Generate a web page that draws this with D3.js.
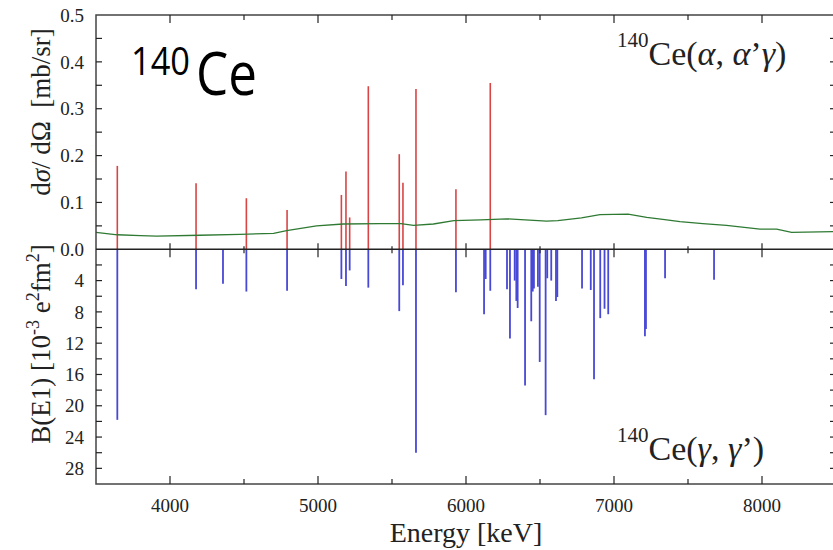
<!DOCTYPE html>
<html>
<head>
<meta charset="utf-8">
<script src="https://cdn.jsdelivr.net/npm/d3@7"></script>
<style>
  body { margin: 0; background: #fff; }
  svg { display: block; }
  .serif { font-family: "Liberation Serif", "DejaVu Serif", serif; fill: #222; }
</style>
</head>
<body>
<svg id="chart" width="833" height="550"></svg>
<script>
"use strict";

// (alpha, alpha' gamma) cross sections, red sticks
var alphaEnergy = [3644, 4176, 4516, 4791, 5158, 5189, 5214, 5340, 5549, 5574, 5662, 5932, 6164],
    alphaSigma = [0.178, 0.141, 0.109, 0.084, 0.116, 0.166, 0.068, 0.348, 0.203, 0.142, 0.342, 0.128, 0.355];

// (gamma, gamma') B(E1) strengths, blue sticks (10^-3 e^2 fm^2)
var gammaEnergy = [3644, 4176, 4358, 4516, 4791, 5158, 5189, 5214, 5340, 5549, 5574, 5662,
                   5932, 6122, 6133, 6164, 6277, 6297, 6329, 6340, 6349, 6399, 6441, 6451,
                   6459, 6486, 6498, 6538, 6549, 6576, 6608, 6617, 6784, 6843, 6865, 6907,
                   6936, 6961, 7209, 7216, 7345, 7676],
    gammaBE1 = [21.8, 5.1, 4.4, 5.4, 5.3, 3.8, 4.7, 2.7, 4.9, 7.9, 4.6, 26.0,
                5.5, 8.3, 3.8, 5.3, 5.1, 11.4, 4.0, 6.6, 7.5, 17.4, 9.2, 5.4,
                5.0, 4.8, 14.4, 21.2, 3.7, 4.0, 6.6, 6.1, 5.0, 5.2, 16.6, 8.8,
                7.6, 8.3, 11.1, 10.2, 3.7, 3.9];

// sensitivity limit curve (green)
var limitEnergy = [3500, 3644, 3800, 3910, 4200, 4473, 4700, 4788, 4990, 5169, 5419, 5560,
                   5645, 5780, 5918, 6100, 6275, 6400, 6545, 6620, 6780, 6905, 7095, 7221,
                   7330, 7446, 7600, 7760, 7986, 8099, 8200, 8500],
    limitSigma = [0.036, 0.031, 0.029, 0.028, 0.030, 0.032, 0.034, 0.040, 0.050, 0.054, 0.055, 0.055,
                  0.051, 0.054, 0.061, 0.063, 0.065, 0.063, 0.060, 0.061, 0.067, 0.074, 0.075, 0.068,
                  0.064, 0.059, 0.055, 0.051, 0.043, 0.043, 0.036, 0.038];

var xTicks = [4000, 5000, 6000, 7000, 8000],
    topTicks = [0.0, 0.1, 0.2, 0.3, 0.4, 0.5],
    botTicks = [4, 8, 12, 16, 20, 24, 28];

var plotLeft = 96, plotRight = 836, plotTop = 15, zeroY = 249.3, plotBottom = 484,
    frameColour = "#444",
    red = "#d94545",
    blue = "#4848d6",
    green = "#2f7a33";

var svg = d3.select("#chart");

var x = d3.scaleLinear().domain([3500, 8500]).range([plotLeft, plotRight]),
    yTop = d3.scaleLinear().domain([0, 0.5]).range([zeroY, plotTop]),
    yBot = d3.scaleLinear().domain([0, 30]).range([zeroY, plotBottom]);

// sticks
svg.append("g")
    .selectAll("line")
    .data(d3.zip(alphaEnergy, alphaSigma))
    .enter().append("line")
    .attr("x1", function(d) { return x(d[0]); })
    .attr("x2", function(d) { return x(d[0]); })
    .attr("y1", yTop(0))
    .attr("y2", function(d) { return yTop(d[1]); })
    .attr("stroke", red)
    .attr("stroke-width", 1.6);

svg.append("g")
    .selectAll("line")
    .data(d3.zip(gammaEnergy, gammaBE1))
    .enter().append("line")
    .attr("x1", function(d) { return x(d[0]); })
    .attr("x2", function(d) { return x(d[0]); })
    .attr("y1", yBot(0))
    .attr("y2", function(d) { return yBot(d[1]); })
    .attr("stroke", blue)
    .attr("stroke-width", 1.8);

var line = d3.line()
    .x(function(d) { return x(d[0]); })
    .y(function(d) { return yTop(d[1]); });

svg.append("path")
    .datum(d3.zip(limitEnergy, limitSigma))
    .attr("d", line)
    .attr("fill", "none")
    .attr("stroke", green)
    .attr("stroke-width", 1.3);

// frame and zero line
svg.append("rect")
    .attr("x", plotLeft).attr("y", plotTop)
    .attr("width", plotRight - plotLeft).attr("height", plotBottom - plotTop)
    .attr("fill", "none")
    .attr("stroke", frameColour)
    .attr("stroke-width", 1.5);

svg.append("line")
    .attr("x1", plotLeft).attr("x2", plotRight)
    .attr("y1", zeroY).attr("y2", zeroY)
    .attr("stroke", "#222")
    .attr("stroke-width", 1.5);

// x ticks: majors every 1000, minors every 500
var xTickVals = d3.range(4000, 8500, 500),
    ticks = svg.append("g").attr("stroke", "#222").attr("stroke-width", 1.2);

xTickVals.forEach(function(v) {
    var major = v % 1000 === 0,
        len = major ? 8 : 5,
        px = x(v);
    ticks.append("line").attr("x1", px).attr("x2", px).attr("y1", plotTop).attr("y2", plotTop + len);
    ticks.append("line").attr("x1", px).attr("x2", px).attr("y1", plotBottom).attr("y2", plotBottom - len);
    ticks.append("line").attr("x1", px).attr("x2", px)
        .attr("y1", zeroY - (major ? 6 : 3)).attr("y2", zeroY + (major ? 8 : 4));
});

// y ticks both sides
d3.range(0.05, 0.5, 0.05).forEach(function(v) {
    var py = yTop(v);
    ticks.append("line").attr("x1", plotLeft).attr("x2", plotLeft + 6).attr("y1", py).attr("y2", py);
    ticks.append("line").attr("x1", plotRight).attr("x2", plotRight - 6).attr("y1", py).attr("y2", py);
});
d3.range(2, 30, 2).forEach(function(v) {
    var py = yBot(v);
    ticks.append("line").attr("x1", plotLeft).attr("x2", plotLeft + 6).attr("y1", py).attr("y2", py);
    ticks.append("line").attr("x1", plotRight).attr("x2", plotRight - 6).attr("y1", py).attr("y2", py);
});

// tick labels
svg.append("g").selectAll("text")
    .data(topTicks)
    .enter().append("text")
    .attr("class", "serif")
    .attr("x", 84).attr("y", function(d) { return yTop(d); })
    .attr("dy", "0.35em")
    .attr("text-anchor", "end")
    .attr("font-size", 19)
    .text(function(d) { return d3.format(".1f")(d); });

svg.append("g").selectAll("text")
    .data(botTicks)
    .enter().append("text")
    .attr("class", "serif")
    .attr("x", 84).attr("y", function(d) { return yBot(d); })
    .attr("dy", "0.35em")
    .attr("text-anchor", "end")
    .attr("font-size", 19)
    .text(function(d) { return d; });

svg.append("g").selectAll("text")
    .data(xTicks)
    .enter().append("text")
    .attr("class", "serif")
    .attr("x", function(d) { return x(d); }).attr("y", 512)
    .attr("text-anchor", "middle")
    .attr("font-size", 19)
    .text(function(d) { return d; });

svg.append("text")
    .attr("class", "serif")
    .attr("x", x(6000)).attr("y", 542)
    .attr("text-anchor", "middle")
    .attr("font-size", 28)
    .text("Energy [keV]");

// axis titles (rotated)
var t1 = svg.append("text")
    .attr("class", "serif")
    .attr("transform", "translate(50,112) rotate(-90)")
    .attr("text-anchor", "middle")
    .attr("font-size", 27);
t1.append("tspan").text("d");
t1.append("tspan").attr("font-style", "italic").text("σ");
t1.append("tspan").text("/ dΩ\u00a0\u00a0[mb/sr]");

var t2 = svg.append("text")
    .attr("class", "serif")
    .attr("transform", "translate(50,344) rotate(-90)")
    .attr("text-anchor", "middle")
    .attr("font-size", 27);
t2.append("tspan").text("B(E1) [10");
t2.append("tspan").attr("dy", -11).attr("font-size", 18).text("-3");
t2.append("tspan").attr("dy", 11).text(" e");
t2.append("tspan").attr("dy", -11).attr("font-size", 18).text("2");
t2.append("tspan").attr("dy", 11).text("fm");
t2.append("tspan").attr("dy", -11).attr("font-size", 18).text("2");
t2.append("tspan").attr("dy", 11).text("]");

// reaction labels
function reaction(yBase, parts) {
    var t = svg.append("text")
        .attr("class", "serif")
        .attr("x", 617).attr("y", yBase)
        .attr("font-size", 34);
    t.append("tspan").attr("dy", -18).attr("font-size", 21).text("140");
    t.append("tspan").attr("dy", 18).text("Ce(");
    parts.forEach(function(p) {
        t.append("tspan").attr("font-style", p[1] ? "italic" : "normal").text(p[0]);
    });
}
reaction(65, [["α", true], [", ", false], ["α", true], ["’", false], ["γ", true], [")", false]]);
reaction(460, [["γ", true], [", ", false], ["γ", true], ["’)", false]]);

// big nucleus label
svg.append("text")
    .attr("x", 131).attr("y", 75)
    .attr("font-family", "'Open Sans', sans-serif")
    .attr("font-size", 38)
    .attr("textLength", 59)
    .attr("lengthAdjust", "spacingAndGlyphs")
    .attr("fill", "#000")
    .text("140");
svg.append("text")
    .attr("x", 196).attr("y", 95)
    .attr("font-family", "'Open Sans', sans-serif")
    .attr("font-size", 61)
    .attr("textLength", 61)
    .attr("lengthAdjust", "spacingAndGlyphs")
    .attr("fill", "#000")
    .text("Ce");
</script>
</body>
</html>
